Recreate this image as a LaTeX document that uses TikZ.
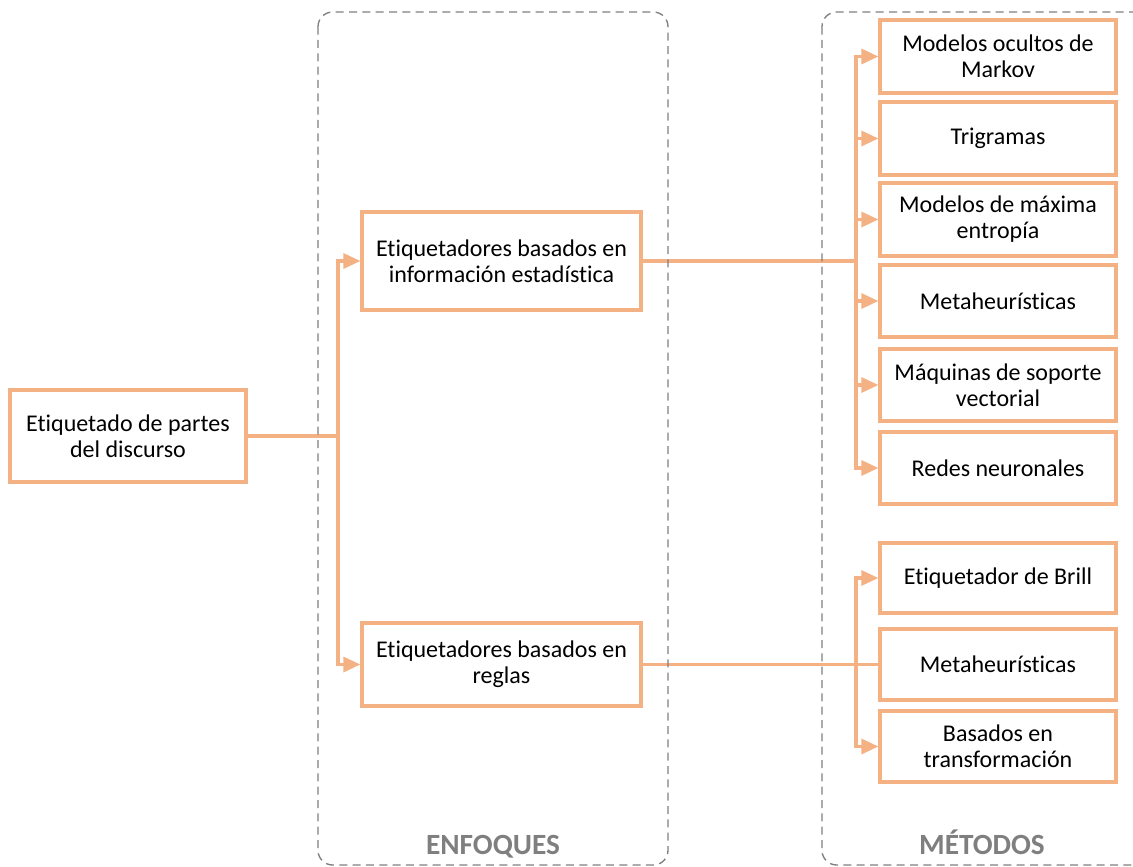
\documentclass[tikz,border=0pt]{standalone}
\usepackage{fontspec}
\setmainfont{Carlito}[Ligatures={NoCommon,NoContextual,NoRare},RawFeature={-liga;-clig;-calt}]
\usetikzlibrary{arrows.meta}
\definecolor{org}{HTML}{F4B183}
\definecolor{grayd}{HTML}{7F7F7F}
\begin{document}
\begin{tikzpicture}[x=0.75pt,y=-0.75pt,
 box/.style={draw=org,line width=2.4pt,fill=white,align=center,inner sep=0pt,font=\fontsize{18}{19.5}\selectfont},
 mbox/.style={box,minimum width=236*0.75pt,minimum height=72*0.75pt},
 conn/.style={draw=org,line width=2.4pt},
 arr/.style={conn,-{Triangle[length=12.75pt,width=11.25pt]}},
 cont/.style={draw=grayd,line width=1pt,dash pattern=on 6pt off 4pt,rounded corners=11pt},
 lbl/.style={text=grayd,anchor=base,font=\fontsize{22}{26}\selectfont\bfseries}]
\useasboundingbox (0,0) rectangle (1133,867);
% nodes
\node[box,minimum width=236*0.75pt,minimum height=92*0.75pt] (root) at (128,436) {Etiquetado de partes\\del discurso};
\node[box,minimum width=279*0.75pt,minimum height=98*0.75pt] (stat) at (501.5,261) {Etiquetadores basados en\\información estadística};
\node[box,minimum width=279*0.75pt,minimum height=83*0.75pt] (rules) at (501.5,664.5) {Etiquetadores basados en\\reglas};
\node[mbox,minimum height=73*0.75pt] (m1) at (998,56.5) {Modelos ocultos de\\Markov};
\node[mbox,minimum height=73*0.75pt] (m2) at (998,138.5) {Trigramas};
\node[mbox,minimum height=73*0.75pt] (m3) at (998,219.5) {Modelos de máxima\\entropía};
\node[mbox] (m4) at (998,301) {Metaheurísticas};
\node[mbox] (m5) at (998,385) {Máquinas de soporte\\vectorial};
\node[mbox] (m6) at (998,468) {Redes neuronales};
\node[mbox,minimum height=70*0.75pt] (m7) at (998,578) {Etiquetador de Brill};
\node[mbox,minimum height=71*0.75pt] (m8) at (998,664.5) {Metaheurísticas};
\node[mbox,minimum height=71*0.75pt] (m9) at (998,746.5) {Basados en\\transformación};
% bus coordinates
\coordinate (b1) at (338,0);
\coordinate (b2) at (856,0);
% connectors
\draw[arr] (root.east) -- (root.east -| b1) |- (stat.west);
\draw[arr] (root.east -| b1) |- (rules.west);
\foreach \n in {m1,m2,m3,m4,m5,m6}{
  \draw[arr] (stat.east) -- (stat.east -| b2) |- (\n.west);
}
\draw[conn] (rules.east) -- (m8.west);
\draw[arr] (rules.east -| b2) |- (m7.west);
\draw[arr] (rules.east -| b2) |- (m9.west);
% containers
\draw[cont] (318,12) rectangle (668,865);
\draw[cont] (822,12) rectangle (1150,865);
\node[lbl] (enf) at (493,854) {ENFOQUES};
\node[lbl] (met) at (982,854) {MÉTODOS};
\end{tikzpicture}
\end{document}
